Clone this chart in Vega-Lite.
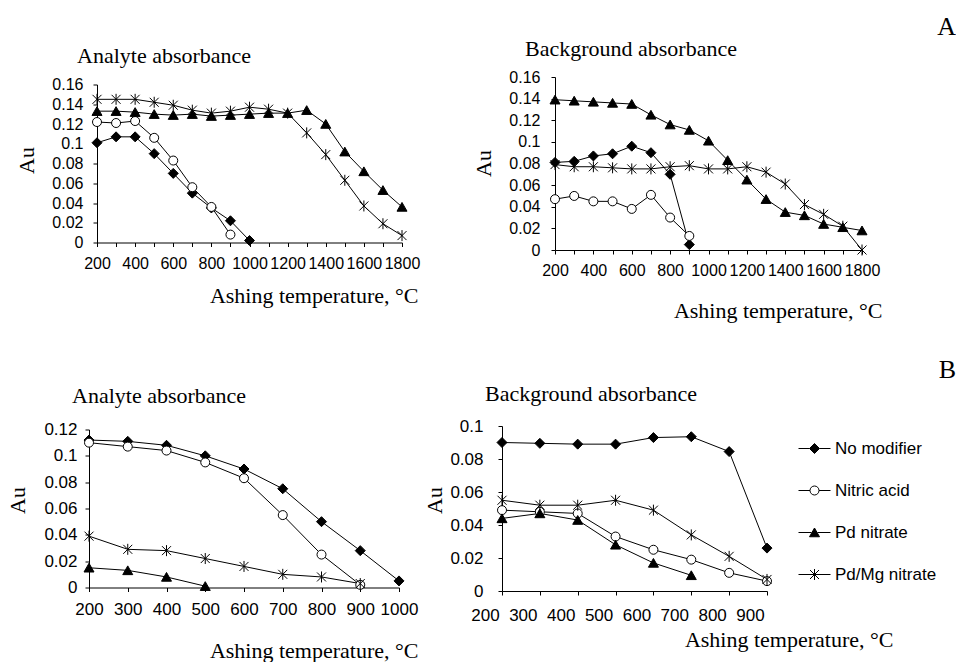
{
"$schema": "https://vega.github.io/schema/vega-lite/v6.json",
"padding": 0,
"background": "white",
"datasets": {
"pts": [
{"p":"A1","m":"No modifier","t":200,"v":0.101},{"p":"A1","m":"No modifier","t":300,"v":0.107},{"p":"A1","m":"No modifier","t":400,"v":0.107},{"p":"A1","m":"No modifier","t":500,"v":0.090},{"p":"A1","m":"No modifier","t":600,"v":0.070},{"p":"A1","m":"No modifier","t":700,"v":0.050},{"p":"A1","m":"No modifier","t":800,"v":0.035},{"p":"A1","m":"No modifier","t":900,"v":0.022},{"p":"A1","m":"No modifier","t":1000,"v":0.002},
{"p":"A1","m":"Nitric acid","t":200,"v":0.122},{"p":"A1","m":"Nitric acid","t":300,"v":0.121},{"p":"A1","m":"Nitric acid","t":400,"v":0.123},{"p":"A1","m":"Nitric acid","t":500,"v":0.106},{"p":"A1","m":"Nitric acid","t":600,"v":0.083},{"p":"A1","m":"Nitric acid","t":700,"v":0.056},{"p":"A1","m":"Nitric acid","t":800,"v":0.036},{"p":"A1","m":"Nitric acid","t":900,"v":0.008},
{"p":"A1","m":"Pd nitrate","t":200,"v":0.133},{"p":"A1","m":"Pd nitrate","t":300,"v":0.133},{"p":"A1","m":"Pd nitrate","t":400,"v":0.132},{"p":"A1","m":"Pd nitrate","t":500,"v":0.130},{"p":"A1","m":"Pd nitrate","t":600,"v":0.129},{"p":"A1","m":"Pd nitrate","t":700,"v":0.130},{"p":"A1","m":"Pd nitrate","t":800,"v":0.128},{"p":"A1","m":"Pd nitrate","t":900,"v":0.129},{"p":"A1","m":"Pd nitrate","t":1000,"v":0.130},{"p":"A1","m":"Pd nitrate","t":1100,"v":0.131},{"p":"A1","m":"Pd nitrate","t":1200,"v":0.131},{"p":"A1","m":"Pd nitrate","t":1300,"v":0.134},{"p":"A1","m":"Pd nitrate","t":1400,"v":0.120},{"p":"A1","m":"Pd nitrate","t":1500,"v":0.092},{"p":"A1","m":"Pd nitrate","t":1600,"v":0.072},{"p":"A1","m":"Pd nitrate","t":1700,"v":0.053},{"p":"A1","m":"Pd nitrate","t":1800,"v":0.036},
{"p":"A1","m":"Pd/Mg nitrate","t":200,"v":0.145},{"p":"A1","m":"Pd/Mg nitrate","t":300,"v":0.145},{"p":"A1","m":"Pd/Mg nitrate","t":400,"v":0.145},{"p":"A1","m":"Pd/Mg nitrate","t":500,"v":0.142},{"p":"A1","m":"Pd/Mg nitrate","t":600,"v":0.139},{"p":"A1","m":"Pd/Mg nitrate","t":700,"v":0.134},{"p":"A1","m":"Pd/Mg nitrate","t":800,"v":0.131},{"p":"A1","m":"Pd/Mg nitrate","t":900,"v":0.133},{"p":"A1","m":"Pd/Mg nitrate","t":1000,"v":0.137},{"p":"A1","m":"Pd/Mg nitrate","t":1100,"v":0.135},{"p":"A1","m":"Pd/Mg nitrate","t":1200,"v":0.131},{"p":"A1","m":"Pd/Mg nitrate","t":1300,"v":0.111},{"p":"A1","m":"Pd/Mg nitrate","t":1400,"v":0.089},{"p":"A1","m":"Pd/Mg nitrate","t":1500,"v":0.063},{"p":"A1","m":"Pd/Mg nitrate","t":1600,"v":0.037},{"p":"A1","m":"Pd/Mg nitrate","t":1700,"v":0.019},{"p":"A1","m":"Pd/Mg nitrate","t":1800,"v":0.007},
{"p":"A2","m":"No modifier","t":200,"v":0.081},{"p":"A2","m":"No modifier","t":300,"v":0.082},{"p":"A2","m":"No modifier","t":400,"v":0.087},{"p":"A2","m":"No modifier","t":500,"v":0.089},{"p":"A2","m":"No modifier","t":600,"v":0.096},{"p":"A2","m":"No modifier","t":700,"v":0.090},{"p":"A2","m":"No modifier","t":800,"v":0.070},{"p":"A2","m":"No modifier","t":900,"v":0.005},
{"p":"A2","m":"Nitric acid","t":200,"v":0.047},{"p":"A2","m":"Nitric acid","t":300,"v":0.050},{"p":"A2","m":"Nitric acid","t":400,"v":0.045},{"p":"A2","m":"Nitric acid","t":500,"v":0.045},{"p":"A2","m":"Nitric acid","t":600,"v":0.038},{"p":"A2","m":"Nitric acid","t":700,"v":0.051},{"p":"A2","m":"Nitric acid","t":800,"v":0.030},{"p":"A2","m":"Nitric acid","t":900,"v":0.013},
{"p":"A2","m":"Pd nitrate","t":200,"v":0.139},{"p":"A2","m":"Pd nitrate","t":300,"v":0.138},{"p":"A2","m":"Pd nitrate","t":400,"v":0.137},{"p":"A2","m":"Pd nitrate","t":500,"v":0.136},{"p":"A2","m":"Pd nitrate","t":600,"v":0.135},{"p":"A2","m":"Pd nitrate","t":700,"v":0.125},{"p":"A2","m":"Pd nitrate","t":800,"v":0.116},{"p":"A2","m":"Pd nitrate","t":900,"v":0.111},{"p":"A2","m":"Pd nitrate","t":1000,"v":0.101},{"p":"A2","m":"Pd nitrate","t":1100,"v":0.083},{"p":"A2","m":"Pd nitrate","t":1200,"v":0.065},{"p":"A2","m":"Pd nitrate","t":1300,"v":0.047},{"p":"A2","m":"Pd nitrate","t":1400,"v":0.035},{"p":"A2","m":"Pd nitrate","t":1500,"v":0.032},{"p":"A2","m":"Pd nitrate","t":1600,"v":0.024},{"p":"A2","m":"Pd nitrate","t":1700,"v":0.021},{"p":"A2","m":"Pd nitrate","t":1800,"v":0.018},
{"p":"A2","m":"Pd/Mg nitrate","t":200,"v":0.079},{"p":"A2","m":"Pd/Mg nitrate","t":300,"v":0.077},{"p":"A2","m":"Pd/Mg nitrate","t":400,"v":0.077},{"p":"A2","m":"Pd/Mg nitrate","t":500,"v":0.076},{"p":"A2","m":"Pd/Mg nitrate","t":600,"v":0.075},{"p":"A2","m":"Pd/Mg nitrate","t":700,"v":0.075},{"p":"A2","m":"Pd/Mg nitrate","t":800,"v":0.077},{"p":"A2","m":"Pd/Mg nitrate","t":900,"v":0.078},{"p":"A2","m":"Pd/Mg nitrate","t":1000,"v":0.075},{"p":"A2","m":"Pd/Mg nitrate","t":1100,"v":0.075},{"p":"A2","m":"Pd/Mg nitrate","t":1200,"v":0.077},{"p":"A2","m":"Pd/Mg nitrate","t":1300,"v":0.072},{"p":"A2","m":"Pd/Mg nitrate","t":1400,"v":0.061},{"p":"A2","m":"Pd/Mg nitrate","t":1500,"v":0.042},{"p":"A2","m":"Pd/Mg nitrate","t":1600,"v":0.033},{"p":"A2","m":"Pd/Mg nitrate","t":1700,"v":0.022},{"p":"A2","m":"Pd/Mg nitrate","t":1800,"v":0.0},
{"p":"B1","m":"No modifier","t":200,"v":0.112},{"p":"B1","m":"No modifier","t":300,"v":0.111},{"p":"B1","m":"No modifier","t":400,"v":0.108},{"p":"B1","m":"No modifier","t":500,"v":0.100},{"p":"B1","m":"No modifier","t":600,"v":0.090},{"p":"B1","m":"No modifier","t":700,"v":0.075},{"p":"B1","m":"No modifier","t":800,"v":0.050},{"p":"B1","m":"No modifier","t":900,"v":0.028},{"p":"B1","m":"No modifier","t":1000,"v":0.005},
{"p":"B1","m":"Nitric acid","t":200,"v":0.110},{"p":"B1","m":"Nitric acid","t":300,"v":0.107},{"p":"B1","m":"Nitric acid","t":400,"v":0.104},{"p":"B1","m":"Nitric acid","t":500,"v":0.095},{"p":"B1","m":"Nitric acid","t":600,"v":0.083},{"p":"B1","m":"Nitric acid","t":700,"v":0.055},{"p":"B1","m":"Nitric acid","t":800,"v":0.025},{"p":"B1","m":"Nitric acid","t":900,"v":0.002},
{"p":"B1","m":"Pd nitrate","t":200,"v":0.015},{"p":"B1","m":"Pd nitrate","t":300,"v":0.013},{"p":"B1","m":"Pd nitrate","t":400,"v":0.008},{"p":"B1","m":"Pd nitrate","t":500,"v":0.001},
{"p":"B1","m":"Pd/Mg nitrate","t":200,"v":0.039},{"p":"B1","m":"Pd/Mg nitrate","t":300,"v":0.029},{"p":"B1","m":"Pd/Mg nitrate","t":400,"v":0.028},{"p":"B1","m":"Pd/Mg nitrate","t":500,"v":0.022},{"p":"B1","m":"Pd/Mg nitrate","t":600,"v":0.016},{"p":"B1","m":"Pd/Mg nitrate","t":700,"v":0.010},{"p":"B1","m":"Pd/Mg nitrate","t":800,"v":0.008},{"p":"B1","m":"Pd/Mg nitrate","t":900,"v":0.003},
{"p":"B2","m":"No modifier","t":200,"v":0.090},{"p":"B2","m":"No modifier","t":300,"v":0.0895},{"p":"B2","m":"No modifier","t":400,"v":0.089},{"p":"B2","m":"No modifier","t":500,"v":0.089},{"p":"B2","m":"No modifier","t":600,"v":0.093},{"p":"B2","m":"No modifier","t":700,"v":0.0935},{"p":"B2","m":"No modifier","t":800,"v":0.0845},{"p":"B2","m":"No modifier","t":900,"v":0.026},
{"p":"B2","m":"Nitric acid","t":200,"v":0.049},{"p":"B2","m":"Nitric acid","t":300,"v":0.048},{"p":"B2","m":"Nitric acid","t":400,"v":0.047},{"p":"B2","m":"Nitric acid","t":500,"v":0.033},{"p":"B2","m":"Nitric acid","t":600,"v":0.025},{"p":"B2","m":"Nitric acid","t":700,"v":0.019},{"p":"B2","m":"Nitric acid","t":800,"v":0.011},{"p":"B2","m":"Nitric acid","t":900,"v":0.006},
{"p":"B2","m":"Pd nitrate","t":200,"v":0.044},{"p":"B2","m":"Pd nitrate","t":300,"v":0.047},{"p":"B2","m":"Pd nitrate","t":400,"v":0.043},{"p":"B2","m":"Pd nitrate","t":500,"v":0.028},{"p":"B2","m":"Pd nitrate","t":600,"v":0.017},{"p":"B2","m":"Pd nitrate","t":700,"v":0.0095},
{"p":"B2","m":"Pd/Mg nitrate","t":200,"v":0.055},{"p":"B2","m":"Pd/Mg nitrate","t":300,"v":0.052},{"p":"B2","m":"Pd/Mg nitrate","t":400,"v":0.052},{"p":"B2","m":"Pd/Mg nitrate","t":500,"v":0.055},{"p":"B2","m":"Pd/Mg nitrate","t":600,"v":0.049},{"p":"B2","m":"Pd/Mg nitrate","t":700,"v":0.034},{"p":"B2","m":"Pd/Mg nitrate","t":800,"v":0.021},{"p":"B2","m":"Pd/Mg nitrate","t":900,"v":0.007}
]
},
"spacing": 28,
"vconcat": [
{"hconcat": [
{"width": 97, "height": 327, "data": {"values": []}, "mark": {"type": "point", "opacity": 0},
 "title": {"text": "A", "anchor": "end", "frame": "group", "fontSize": 26, "offset": 0, "dx": 859, "dy": 40}},
{"width": 305, "height": 158,
 "data": {"name": "pts"},
 "transform": [{"filter": "datum.p == 'A1'"}],
 "title": {"text": "Analyte absorbance", "offset": 9, "dx": -20},
 "encoding": {
  "x": {"field": "t", "type": "quantitative", "scale": {"domain": [200, 1800], "nice": false, "zero": false},
   "axis": {"values": [200,300,400,500,600,700,800,900,1000,1100,1200,1300,1400,1500,1600,1700,1800], "format": "d", "labelExpr": "datum.value % 200 == 0 ? datum.label : ''", "labelFontSize": 16, "labelPadding": 9,
    "title": "Ashing temperature, °C", "titleX": 321, "titleY": 59.5, "titleAlign": "right", "titleBaseline": "alphabetic"}},
  "y": {"field": "v", "type": "quantitative", "scale": {"domain": [0, 0.16], "nice": false},
   "axis": {"values": [0,0.02,0.04,0.06,0.08,0.1,0.12,0.14,0.16], "format": ".2~f", "labelFontSize": 16, "labelPadding": 10,
    "title": "Au", "titleX": -71, "titleY": 75.5, "titleAngle": -90, "titleAlign": "center", "titleBaseline": "middle"}}
 },
 "layer": [
  {"mark": {"type": "line", "color": "black", "strokeWidth": 1}, "encoding": {"detail": {"field": "m"}}},
  {"mark": {"type": "point", "filled": true, "opacity": 1, "size": 100, "stroke": "black", "strokeWidth": 1},
   "encoding": {
    "shape": {"field": "m", "scale": {"domain": ["No modifier","Nitric acid","Pd nitrate","Pd/Mg nitrate"], "range": ["M0,-1L1,0L0,1L-1,0Z","M0.9,0A0.9,0.9,0,1,1,-0.9,0A0.9,0.9,0,1,1,0.9,0Z","M0,-0.9L1,0.85L-1,0.85Z","M-0.9,-0.9L0.9,0.9M-0.9,0.9L0.9,-0.9M0,-1.1L0,1.1"]}, "legend": null},
    "fill": {"field": "m", "scale": {"domain": ["No modifier","Nitric acid","Pd nitrate","Pd/Mg nitrate"], "range": ["black","white","black","black"]}, "legend": null}}}
 ]},
{"width": 153, "height": 1, "data": {"values": []}, "mark": {"type": "point", "opacity": 0}},
{"width": 307, "height": 173,
 "data": {"name": "pts"},
 "transform": [{"filter": "datum.p == 'A2'"}],
 "title": {"text": "Background absorbance", "offset": 8, "dx": -30},
 "encoding": {
  "x": {"field": "t", "type": "quantitative", "scale": {"domain": [200, 1800], "nice": false, "zero": false},
   "axis": {"values": [200,300,400,500,600,700,800,900,1000,1100,1200,1300,1400,1500,1600,1700,1800], "format": "d", "labelExpr": "datum.value % 200 == 0 ? datum.label : ''", "labelFontSize": 16, "labelPadding": 8,
    "title": "Ashing temperature, °C", "titleX": 327, "titleY": 67, "titleAlign": "right", "titleBaseline": "alphabetic"}},
  "y": {"field": "v", "type": "quantitative", "scale": {"domain": [0, 0.16], "nice": false},
   "axis": {"values": [0,0.02,0.04,0.06,0.08,0.1,0.12,0.14,0.16], "format": ".2~f", "labelFontSize": 16, "labelPadding": 11,
    "title": "Au", "titleX": -72, "titleY": 86, "titleAngle": -90, "titleAlign": "center", "titleBaseline": "middle"}}
 },
 "layer": [
  {"mark": {"type": "line", "color": "black", "strokeWidth": 1}, "encoding": {"detail": {"field": "m"}}},
  {"mark": {"type": "point", "filled": true, "opacity": 1, "size": 100, "stroke": "black", "strokeWidth": 1},
   "encoding": {
    "shape": {"field": "m", "scale": {"domain": ["No modifier","Nitric acid","Pd nitrate","Pd/Mg nitrate"], "range": ["M0,-1L1,0L0,1L-1,0Z","M0.9,0A0.9,0.9,0,1,1,-0.9,0A0.9,0.9,0,1,1,0.9,0Z","M0,-0.9L1,0.85L-1,0.85Z","M-0.9,-0.9L0.9,0.9M-0.9,0.9L0.9,-0.9M0,-1.1L0,1.1"]}, "legend": null},
    "fill": {"field": "m", "scale": {"domain": ["No modifier","Nitric acid","Pd nitrate","Pd/Mg nitrate"], "range": ["black","white","black","black"]}, "legend": null}}}
 ]}
], "bounds": "flush", "spacing": 0, "center": true},

{"hconcat": [
{"width": 89, "height": 307, "data": {"values": []}, "mark": {"type": "point", "opacity": 0},
 "title": {"text": "B", "anchor": "end", "frame": "group", "fontSize": 26, "offset": 0, "dx": 867, "dy": 28}},
{"width": 310, "height": 158,
 "data": {"name": "pts"},
 "transform": [{"filter": "datum.p == 'B1'"}],
 "title": {"text": "Analyte absorbance", "offset": 13, "dx": -17},
 "encoding": {
  "x": {"field": "t", "type": "quantitative", "scale": {"domain": [200, 1000], "nice": false, "zero": false},
   "axis": {"values": [200,300,400,500,600,700,800,900,1000], "format": "d", "labelFontSize": 17, "labelPadding": 10,
    "title": "Ashing temperature, °C", "titleX": 329, "titleY": 69.5, "titleAlign": "right", "titleBaseline": "alphabetic"}},
  "y": {"field": "v", "type": "quantitative", "scale": {"domain": [0, 0.12], "nice": false},
   "axis": {"values": [0,0.02,0.04,0.06,0.08,0.1,0.12], "format": ".2~f", "labelFontSize": 17, "labelPadding": 8,
    "title": "Au", "titleX": -72, "titleY": 70.5, "titleAngle": -90, "titleAlign": "center", "titleBaseline": "middle"}}
 },
 "layer": [
  {"mark": {"type": "line", "color": "black", "strokeWidth": 1}, "encoding": {"detail": {"field": "m"}}},
  {"mark": {"type": "point", "filled": true, "opacity": 1, "size": 100, "stroke": "black", "strokeWidth": 1},
   "encoding": {
    "shape": {"field": "m", "scale": {"domain": ["No modifier","Nitric acid","Pd nitrate","Pd/Mg nitrate"], "range": ["M0,-1L1,0L0,1L-1,0Z","M0.9,0A0.9,0.9,0,1,1,-0.9,0A0.9,0.9,0,1,1,0.9,0Z","M0,-0.9L1,0.85L-1,0.85Z","M-0.9,-0.9L0.9,0.9M-0.9,0.9L0.9,-0.9M0,-1.1L0,1.1"]}, "legend": null},
    "fill": {"field": "m", "scale": {"domain": ["No modifier","Nitric acid","Pd nitrate","Pd/Mg nitrate"], "range": ["black","white","black","black"]}, "legend": null}}}
 ]},
{"width": 103, "height": 1, "data": {"values": []}, "mark": {"type": "point", "opacity": 0}},
{"width": 265, "height": 165,
 "data": {"name": "pts"},
 "transform": [{"filter": "datum.p == 'B2'"}],
 "title": {"text": "Background absorbance", "offset": 11, "dx": -17},
 "encoding": {
  "x": {"field": "t", "type": "quantitative", "scale": {"domain": [200, 900], "nice": false, "zero": false},
   "axis": {"values": [200,300,400,500,600,700,800,900], "format": "d", "labelFontSize": 17, "labelPadding": 12, "labelOffset": -17,
    "title": "Ashing temperature, °C", "titleX": 391, "titleY": 55, "titleAlign": "right", "titleBaseline": "alphabetic"}},
  "y": {"field": "v", "type": "quantitative", "scale": {"domain": [0, 0.1], "nice": false},
   "axis": {"values": [0,0.02,0.04,0.06,0.08,0.1], "format": ".2~f", "labelFontSize": 17, "labelPadding": 15,
    "title": "Au", "titleX": -68, "titleY": 74, "titleAngle": -90, "titleAlign": "center", "titleBaseline": "middle"}}
 },
 "layer": [
  {"mark": {"type": "line", "color": "black", "strokeWidth": 1}, "encoding": {"detail": {"field": "m"}}},
  {"mark": {"type": "point", "filled": true, "opacity": 1, "size": 100, "stroke": "black", "strokeWidth": 1},
   "encoding": {
    "shape": {"field": "m", "scale": {"domain": ["No modifier","Nitric acid","Pd nitrate","Pd/Mg nitrate"], "range": ["M0,-1L1,0L0,1L-1,0Z","M0.9,0A0.9,0.9,0,1,1,-0.9,0A0.9,0.9,0,1,1,0.9,0Z","M0,-0.9L1,0.85L-1,0.85Z","M-0.9,-0.9L0.9,0.9M-0.9,0.9L0.9,-0.9M0,-1.1L0,1.1"]}, "legend": null},
    "fill": {"field": "m", "scale": {"domain": ["No modifier","Nitric acid","Pd nitrate","Pd/Mg nitrate"], "range": ["black","white","black","black"]}, "legend": null}}},
  {"transform": [{"filter": "false"}],
   "mark": {"type": "point", "filled": true, "opacity": 1, "size": 100, "strokeWidth": 1},
   "encoding": {
    "shape": {"field": "m", "scale": {"domain": ["No modifier","Nitric acid","Pd nitrate","Pd/Mg nitrate"], "range": ["M-3.2,0L-1,0M1,0L3.2,0M0,-1L1,0L0,1L-1,0Z","M-3.2,0L-0.9,0M0.9,0L3.2,0M0.9,0A0.9,0.9,0,1,1,-0.9,0A0.9,0.9,0,1,1,0.9,0Z","M-3.2,0L-0.6,0M0.6,0L3.2,0M0,-0.9L1,0.85L-1,0.85Z","M-3.2,0L3.2,0M-0.9,-0.9L0.9,0.9M-0.9,0.9L0.9,-0.9M0,-1.1L0,1.1"]},
     "legend": {"title": null, "orient": "none", "legendX": 304, "legendY": 14, "labelFont": "Liberation Sans", "labelFontSize": 17, "labelColor": "black", "labelOffset": 12, "rowPadding": 24, "symbolSize": 100, "symbolStrokeWidth": 1, "labelLimit": 300}},
    "fill": {"field": "m", "scale": {"domain": ["No modifier","Nitric acid","Pd nitrate","Pd/Mg nitrate"], "range": ["black","white","black","black"]},
     "legend": {"title": null, "orient": "none", "legendX": 304, "legendY": 14, "labelFont": "Liberation Sans", "labelFontSize": 17, "labelColor": "black", "labelOffset": 12, "rowPadding": 24, "symbolSize": 100, "symbolStrokeWidth": 1, "labelLimit": 300}},
    "stroke": {"field": "m", "scale": {"domain": ["No modifier","Nitric acid","Pd nitrate","Pd/Mg nitrate"], "range": ["black","black","black","black"]},
     "legend": {"title": null, "orient": "none", "legendX": 304, "legendY": 14, "labelFont": "Liberation Sans", "labelFontSize": 17, "labelColor": "black", "labelOffset": 12, "rowPadding": 24, "symbolSize": 100, "symbolStrokeWidth": 1, "labelLimit": 300}}}}
 ],
 "resolve": {"scale": {"shape": "independent", "fill": "independent", "stroke": "independent"}}}
], "bounds": "flush", "spacing": 0, "center": true}
],
"config": {
 "view": {"stroke": null, "fill": "transparent"},
 "axis": {"domainColor": "black", "domainWidth": 1, "tickColor": "black", "tickWidth": 1, "tickSize": 4, "labelColor": "black", "labelFont": "Liberation Sans", "titleFont": "Liberation Serif", "titleFontSize": 22, "titleFontWeight": "normal", "titleColor": "black", "grid": false, "labelOverlap": false, "labelFlush": false, "labelBound": false},
 "title": {"font": "Liberation Serif", "fontSize": 22, "fontWeight": "normal", "color": "black", "anchor": "start", "frame": "group"}
}
}
